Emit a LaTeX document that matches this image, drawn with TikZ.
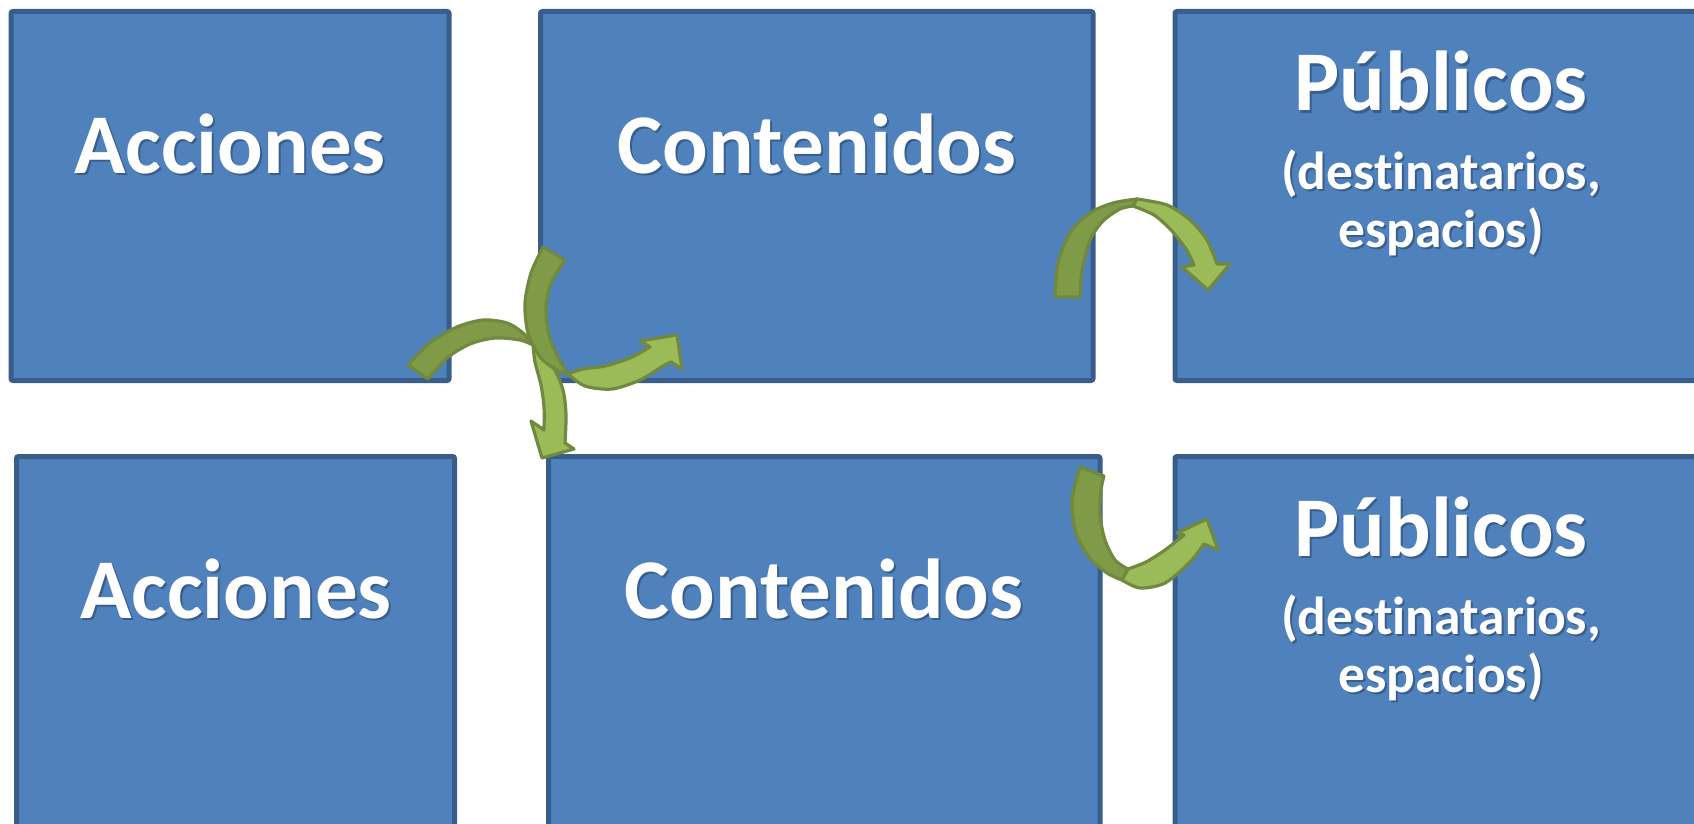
\documentclass[tikz,border=0pt]{standalone}
\usepackage{fontspec}
\newfontfamily\calfont{Carlito}[Ligatures=NoCommon]
\definecolor{boxfill}{HTML}{4F81BD}
\definecolor{boxline}{HTML}{385D8A}
\definecolor{arrlight}{HTML}{9BBB59}
\definecolor{arrdark}{HTML}{7F9B48}
\definecolor{arrline}{HTML}{71893F}
\definecolor{shadowc}{HTML}{1F3550}
\tikzset{
  box/.style={draw=boxline, fill=boxfill, line width=5, rounded corners=2, outer sep=0, inner sep=0, anchor=north west},
  txt/.style={text=white, inner sep=0, anchor=base},
  shd/.style={text=shadowc, text opacity=0.45, inner sep=0, anchor=base},
  bigfont/.style={font=\calfont\bfseries\fontsize{85}{95}\selectfont},
  midfont/.style={font=\calfont\bfseries\fontsize{85}{95}\selectfont},
  smallfont/.style={font=\calfont\bfseries\fontsize{53.5}{60}\selectfont},
  darkpart/.style={fill=arrdark, draw=arrline, line width=3.2, line join=round},
  lightpart/.style={fill=arrlight, draw=arrline, line width=3.2, line join=round},
}
\newcommand{\stext}[5]{%
  \node[shd,#4] (#1s) at (#2+2,#3+2.5) {#5};
  \node[txt,#4] (#1) at (#2,#3) {#5};}
\begin{document}
\begin{tikzpicture}[x=1pt,y=-1pt]
\useasboundingbox (0,0) rectangle (1694,824);
\clip (0,0) rectangle (1694,824);
% boxes
\node[box, minimum width=438, minimum height=369] (a1) at (11,11.5) {};
\node[box, minimum width=552.5, minimum height=369] (c1) at (540.5,11.5) {};
\node[box, minimum width=532, minimum height=369] (p1) at (1175,11.5) {};
\node[box, minimum width=438, minimum height=380] (a2) at (16.5,456.5) {};
\node[box, minimum width=551.5, minimum height=380] (c2) at (548.5,456.5) {};
\node[box, minimum width=532, minimum height=380] (p2) at (1175,456.5) {};
% texts
\stext{a1t}{230}{173}{bigfont}{Acciones}
\stext{c1t}{817}{173}{bigfont}{Contenidos}
\stext{p1t}{1441}{111}{midfont}{Públicos}
\stext{p1u}{1441}{189}{smallfont}{(destinatarios,}
\stext{p1v}{1441}{247}{smallfont}{espacios)}
\stext{a2t}{236}{618}{bigfont}{Acciones}
\stext{c2t}{824}{618}{bigfont}{Contenidos}
\stext{p2t}{1441}{556}{midfont}{Públicos}
\stext{p2u}{1441}{634}{smallfont}{(destinatarios,}
\stext{p2v}{1441}{692}{smallfont}{espacios)}
% arrow Y (curved down, between Acciones and lower Contenidos)
\coordinate (yTa) at (408,365);
\coordinate (yTb) at (428,379);
\coordinate (yJ) at (533,345);
\coordinate (yHo) at (565,443);
\coordinate (yBo) at (574,449);
\coordinate (yP) at (542,458);
\coordinate (yBi) at (531,421);
\coordinate (yHi) at (544,430);
\draw[darkpart] plot[smooth] coordinates {(yTa) (430,343) (457,327) (483,320) (507,323) (523,333) (yJ)}
  -- plot[smooth] coordinates {(yJ) (520,340) (495,338) (470,344) (447,358) (yTb)} -- cycle;
\draw[lightpart] plot[smooth] coordinates {(yJ) (553,367) (563,390) (566,415) (yHo)}
  -- (yBo) -- (yP) -- (yBi) -- plot[smooth] coordinates {(yHi) (544,407) (541,385) (535,362) (yJ)} -- cycle;
% arrow X (curved up, into upper Contenidos)
\coordinate (xTa) at (543,247);
\coordinate (xTb) at (565,260);
\coordinate (xJ) at (568,374);
\coordinate (xHo) at (671,362);
\coordinate (xBo) at (682,369);
\coordinate (xP) at (677,335);
\coordinate (xBi) at (640,341);
\coordinate (xHi) at (650,347);
\draw[darkpart] plot[smooth] coordinates {(xTa) (531,273) (525,303) (528,333) (540,357) (555,369) (xJ)}
  -- plot[smooth] coordinates {(xJ) (558,357) (549,335) (546,307) (551,283) (xTb)} -- cycle;
\draw[lightpart] plot[smooth] coordinates {(xJ) (585,386) (612,389) (640,380) (663,366) (xHo)}
  -- (xBo) -- (xP) -- (xBi) -- plot[smooth] coordinates {(xHi) (630,358) (605,366) (583,369) (xJ)} -- cycle;
% arrow T (curved down, top right)
\coordinate (tTa) at (1055,297);
\coordinate (tTb) at (1080,297);
\coordinate (tJo) at (1137,199);
\coordinate (tJi) at (1133,206);
\coordinate (tHo) at (1217,264);
\coordinate (tBo) at (1230,264);
\coordinate (tP) at (1208,290);
\coordinate (tBi) at (1182,267);
\coordinate (tHi) at (1194,265);
\draw[darkpart] plot[smooth] coordinates {(tTa) (1058,263) (1070,233) (1090,213) (1113,203) (tJo)}
  -- plot[smooth] coordinates {(tJi) (1120,209) (1103,221) (1090,240) (1082,270) (tTb)} -- cycle;
\draw[lightpart] plot[smooth] coordinates {(tJo) (1167,205) (1190,220) (1207,240) (tHo)}
  -- (tBo) -- (tP) -- (tBi) -- plot[smooth] coordinates {(tHi) (1186,249) (1171,230) (1154,215) (tJi)} -- cycle;
% arrow B (curved up, bottom right)
\coordinate (bTa) at (1080,467);
\coordinate (bTb) at (1104,476);
\coordinate (bJo) at (1122,580);
\coordinate (bJi) at (1128,569);
\coordinate (bHo) at (1204,544);
\coordinate (bBo) at (1218,550);
\coordinate (bP) at (1207,519);
\coordinate (bBi) at (1177,533);
\coordinate (bHi) at (1184,535);
\draw[darkpart] plot[smooth] coordinates {(bTa) (1072,500) (1076,533) (1089,557) (1107,573) (bJo)}
  -- plot[smooth] coordinates {(bJi) (1115,560) (1105,540) (1100,515) (1101,490) (bTb)} -- cycle;
\draw[lightpart] plot[smooth] coordinates {(bJo) (1140,588) (1165,583) (1190,562) (bHo)}
  -- (bBo) -- (bP) -- (bBi) -- plot[smooth] coordinates {(bHi) (1165,550) (1146,562) (bJi)} -- cycle;
\end{tikzpicture}
\end{document}
